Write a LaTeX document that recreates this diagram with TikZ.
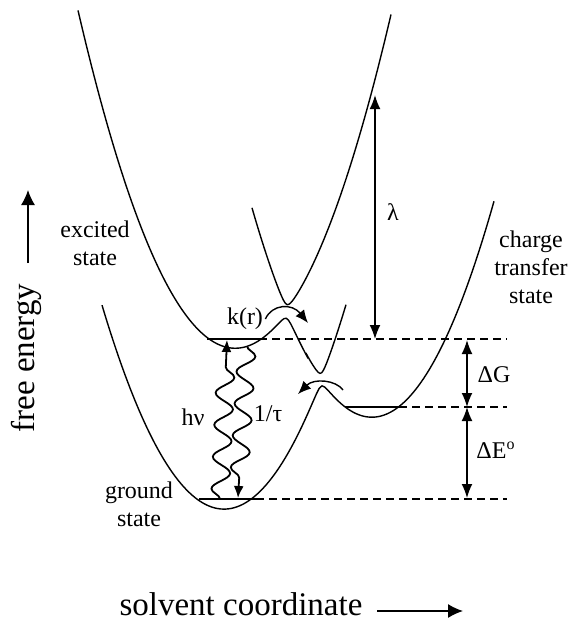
\documentclass[tikz,border=0pt]{standalone}
\usepackage{fontspec}
\setmainfont{Liberation Serif}
\usetikzlibrary{arrows.meta,positioning,calc,decorations.pathmorphing}

\begin{document}
\begin{tikzpicture}[x=0.5pt,y=-0.5pt,>={Latex[length=7pt,width=5.5pt]},
  declare function={
    fG(\x)=50.9-0.137*(\x/10-22.4)^2;
    fE(\x)=34.8-0.137*(\x/10-23.5)^2;
    fC(\x)=41.7-0.145*(\x/10-37.2)^2;
    lowEC(\x)=(fE(\x)+fC(\x))/2+sqrt(((fE(\x)-fC(\x))/2)^2+0.49);
    upEC(\x)=(fE(\x)+fC(\x))/2-sqrt(((fE(\x)-fC(\x))/2)^2+0.49);
    lowGC(\x)=(fG(\x)+fC(\x))/2+sqrt(((fG(\x)-fC(\x))/2)^2+0.42);
    upGC(\x)=(fG(\x)+fC(\x))/2-sqrt(((fG(\x)-fC(\x))/2)^2+0.42);},
  curve/.style={line width=0.7pt},
  level/.style={line width=0.8pt},
  guide/.style={line width=0.6pt,dash pattern=on 4pt off 2.5pt},
  gap/.style={<->,line width=0.8pt},
  hop/.style={-{Latex[length=6.5pt,width=5.5pt]},line width=0.7pt},
  wavy/.style={-{Latex[length=6pt,width=5pt]},line width=0.9pt,decorate,
    decoration={snake,segment length=16pt,amplitude=4.5pt,post length=6pt}},
  lab/.style={font=\fontsize{12}{14}\selectfont,align=center,inner sep=1pt},
  axis/.style={font=\fontsize{16.5}{19}\selectfont,inner sep=0pt},
  axarrow/.style={-{Latex[length=7.5pt,width=7pt]},line width=0.7pt}]
\useasboundingbox (0,0) rectangle (571,623);
% potential curves
\draw[curve] plot[domain=78:307,samples=100] (\x,{10*lowEC(\x)})
  -- plot[domain=307:346,samples=25] (\x,{10*upGC(\x)});
\draw[curve] plot[domain=252:391,samples=80] (\x,{10*upEC(\x)});
\draw[curve] plot[domain=102:494,samples=140] (\x,{10*lowGC(\x)});
% levels
\coordinate (eL) at (207,339); \coordinate (eR) at (259,339); \coordinate (eE) at (507,339);
\coordinate (cL) at (345,407); \coordinate (cR) at (399,407); \coordinate (cE) at (507,407);
\coordinate (gL) at (199,499); \coordinate (gR) at (256,499); \coordinate (gE) at (507,499);
\draw[level] (eL) -- (eR);
\draw[level] (cL) -- (cR);
\draw[level] (gL) -- (gR);
\draw[guide] (eR) -- (eE);
\draw[guide] (cR) -- (cE);
\draw[guide] (gR) -- (gE);
% energy gaps
\coordinate (lamT) at (375,95); \coordinate (lamB) at (375,339);
\coordinate (gapE) at (467,340); \coordinate (gapC) at (467,407); \coordinate (gapG) at (467,498);
\draw[gap] (lamT) -- (lamB);
\draw[gap] (gapE) -- (gapC);
\draw[gap] (gapC) -- (gapG);
\node[lab] (lam) at (393,212) {λ};
\node[lab] (dG) at (494,375) {ΔG};
\node[lab] (dE) at (496,450) {ΔE\textsuperscript{o}};
% transitions
\coordinate (hvB) at (220,499); \coordinate (hvT) at (227,340);
\coordinate (tauT) at (247,346); \coordinate (tauB) at (238,498);
\draw[wavy] (hvB) -- (hvT);
\draw[wavy] (tauT) -- (tauB);
\node[lab] (hv) at (193,417) {hν};
\node[lab] (tau) at (268,414) {1/τ};
\node[lab] (kr) at (245,319) {k(r)};
\coordinate (krTip) at (308,323);
\coordinate (backA) at (343,390); \coordinate (backTip) at (298,394);
\draw[hop] (kr.east) .. controls (272,304) and (292,303) .. (krTip);
\draw[hop] (backA) .. controls (336,380) and (314,378) .. (backTip);
% state labels
\node[lab] (exc) at (95,243) {excited\\state};
\node[lab] (ct) at (531,267) {charge\\transfer\\state};
\node[lab] (gnd) at (139,504) {ground\\state};
% axes
\node[axis,rotate=90] (fe) at (26,358) {free energy};
\node[axis,anchor=base] (sc) at (241,615) {solvent coordinate};
\coordinate (feB) at (28,263); \coordinate (feT) at (28,190);
\coordinate (scL) at (377,611); \coordinate (scR) at (463,611);
\draw[axarrow] (feB) -- (feT);
\draw[axarrow] (scL) -- (scR);
\end{tikzpicture}
\end{document}
